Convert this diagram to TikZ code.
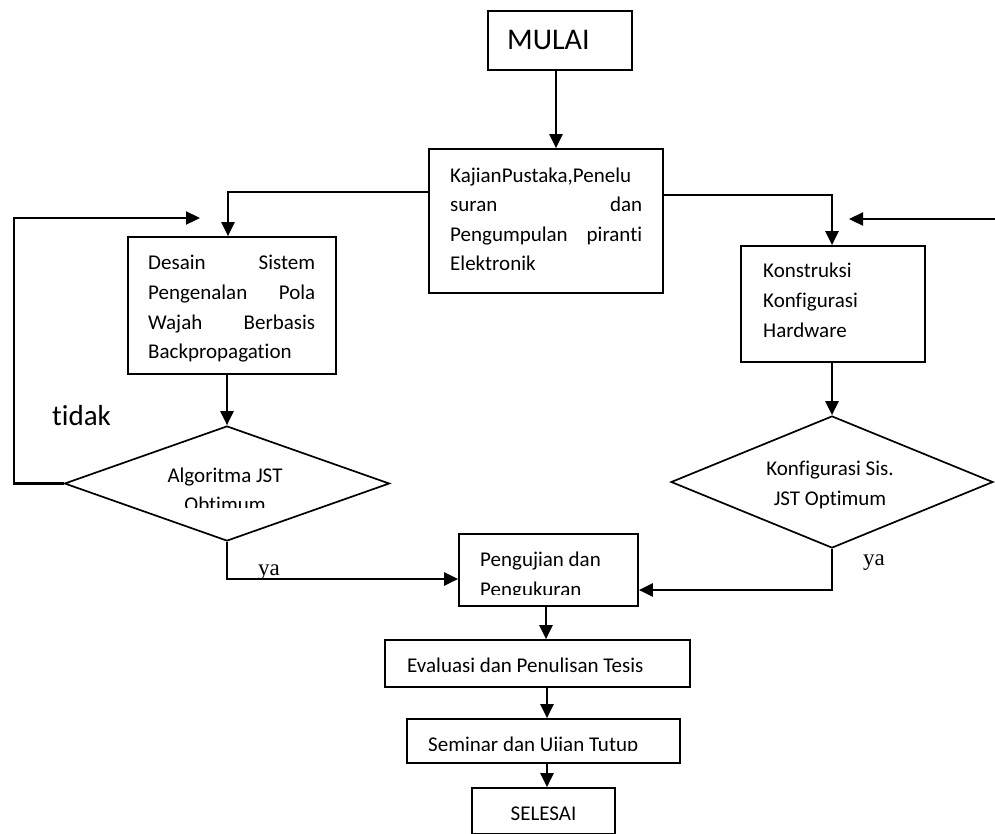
\documentclass[tikz,border=0pt]{standalone}
\usepackage{fontspec}
\setmainfont{Carlito}[Ligatures=NoCommon]
\newfontfamily\serifya{Liberation Serif}
\usetikzlibrary{arrows.meta,shapes.geometric}

\begin{document}
\begin{tikzpicture}[x=1pt,y=-1pt,
  box/.style={draw, line width=1.7pt, inner sep=0pt, rectangle},
  dia/.style={draw, line width=1.7pt, diamond, inner sep=0pt},
  wire/.style={line width=2.3pt},
  arr/.style={wire, -{Triangle[length=14pt,width=13pt]}},
  body/.style={font=\fontsize{21}{29.5}\selectfont, inner sep=0pt, anchor=base west},
  bodyc/.style={body, anchor=base},
  big/.style={font=\fontsize{29}{34}\selectfont, inner sep=0pt, anchor=base west},
  yes/.style={font=\serifya\fontsize{23}{27}\selectfont, inner sep=0pt, anchor=base west}]
\useasboundingbox (0,0) rectangle (995,833);

% --- frames of the steps ---
\node[box, minimum width=144pt, minimum height=59pt] (mulai) at (560,40.5) {};
\node[box, minimum width=234pt, minimum height=144pt] (kajian) at (546,221) {};
\node[box, minimum width=208pt, minimum height=137pt] (desain) at (232,305.5) {};
\node[box, minimum width=184pt, minimum height=116pt] (konstruksi) at (833,304) {};
\node[dia, minimum width=325pt, minimum height=115pt] (algo) at (227,483.5) {};
\node[dia, minimum width=322pt, minimum height=132pt] (konfig) at (832,482) {};
\node[box, minimum width=179pt, minimum height=72pt] (uji) at (548.5,570) {};
\node[box, minimum width=305pt, minimum height=47pt] (evaluasi) at (537.5,663.5) {};
\node[box, minimum width=273pt, minimum height=44pt] (seminar) at (543.5,741) {};
\node[box, minimum width=143pt, minimum height=46pt] (selesai) at (543.5,811) {};

% --- texts ---
\node[big, font=\fontsize{30}{34}\selectfont] (tmulai) at (507,49) {MULAI};

\node[body] (k1) at (450,182) {KajianPustaka,Penelu};
\node[body] (k2) at (450,211.5) {\makebox[192pt][s]{suran dan}};
\node[body] (k3) at (450,241) {\makebox[192pt][s]{Pengumpulan piranti}};
\node[body] (k4) at (450,270.5) {Elektronik};

\node[body] (d1) at (148,269) {\makebox[167pt][s]{Desain Sistem}};
\node[body] (d2) at (148,299) {\makebox[167pt][s]{Pengenalan Pola}};
\node[body] (d3) at (148,329) {\makebox[167pt][s]{Wajah Berbasis}};
\node[body] (d4) at (148,358) {Backpropagation};

\node[body] (h1) at (763,277) {Konstruksi};
\node[body] (h2) at (763,307) {Konfigurasi};
\node[body] (h3) at (763,337) {Hardware};

\node[bodyc] (a1) at (225,482) {Algoritma JST};
\begin{scope}
  \clip (100,490) rectangle (350,507);
  \node[bodyc] (a2) at (225,511.5) {Obtimum};
\end{scope}

\node[bodyc] (c1) at (830,475) {Konfigurasi Sis.};
\node[bodyc] (c2) at (830,505) {JST Optimum};

\node[body] (u1) at (480,566) {Pengujian dan};
\begin{scope}
  \clip (470,575) rectangle (630,594);
  \node[body] (u2) at (480,596) {Pengukuran};
\end{scope}

\node[body] (e1) at (407,672) {Evaluasi dan Penulisan Tesis};
\begin{scope}
  \clip (415,725) rectangle (675,750);
  \node[body] (s1) at (428,751) {Seminar dan Ujian Tutup};
\end{scope}
\node[bodyc] (f1) at (543.5,820) {SELESAI};

\node[big] (tidak) at (52,425) {tidak};
\node[yes] (ya1) at (258,575) {ya};
\node[yes] (ya2) at (863,565) {ya};

% --- connectors ---
\coordinate (loopend) at (200,218);
\coordinate (rin) at (998,219);
\coordinate (rtip) at (849,219);

\draw[arr] (mulai.south -| 556,0) -- (kajian.north -| 556,0);
\draw[arr] (kajian.west |- 0,192) -| (228,0 |- desain.north);
\draw[arr] (kajian.east |- 0,195) -| (konfig.north |- konstruksi.north);
\draw[arr] (rin) -- (rtip);
\draw[arr] (desain.south -| algo.north) -- (algo.north);
\draw[arr] (algo.west) -- ++(-50,0) |- (loopend);
\draw[arr] (konstruksi.south -| konfig.north) -- (konfig.north);
\draw[arr] (algo.south) |- (uji.west |- 0,579);
\draw[arr] (konfig.south) |- (uji.east |- 0,590);
\draw[arr] (uji.south -| 546,0) -- (evaluasi.north -| 546,0);
\draw[arr] (evaluasi.south -| 547,0) -- (seminar.north -| 547,0);
\draw[arr] (seminar.south -| 547,0) -- (selesai.north -| 547,0);
\end{tikzpicture}
\end{document}
